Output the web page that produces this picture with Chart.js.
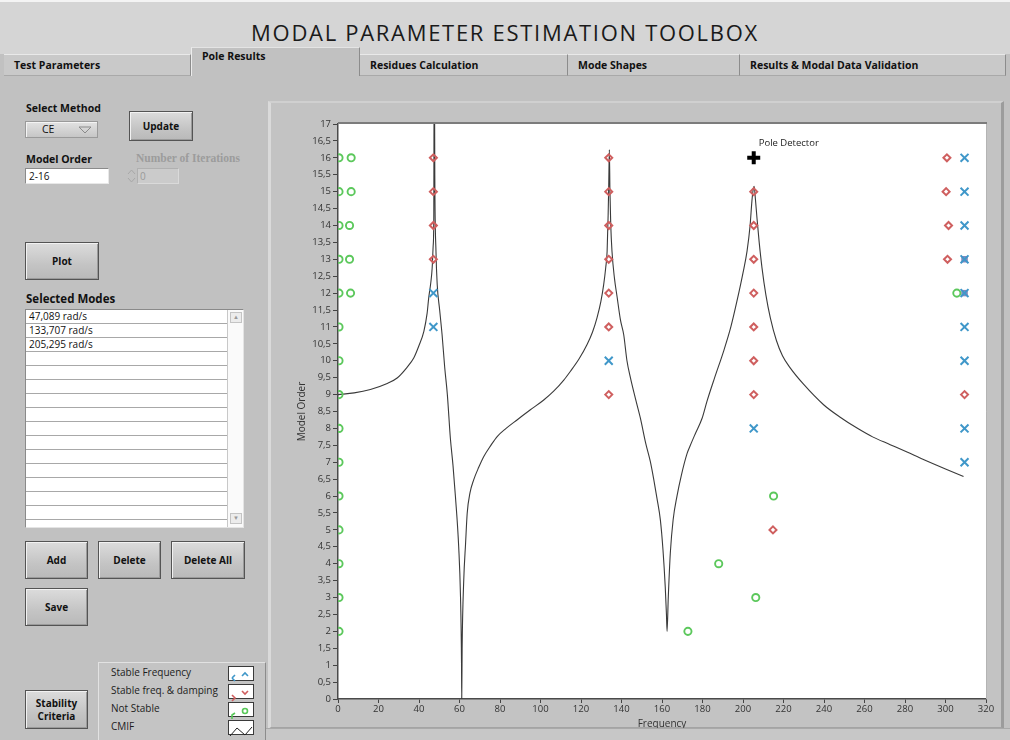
<!DOCTYPE html>
<html>
<head>
<meta charset="utf-8">
<title>Modal Parameter Estimation Toolbox</title>
<script src="https://cdn.jsdelivr.net/npm/chart.js@4.4.1/dist/chart.umd.min.js"></script>
<style>
  html, body { margin: 0; padding: 0; }
  body { width: 1010px; height: 740px; overflow: hidden; position: relative; background: #c1c1c1; font-family: "Open Sans", "Noto Sans", sans-serif; color: #111; }
  .abs { position: absolute; box-sizing: border-box; }
  #titlebar { left: 0; top: 0; width: 1010px; height: 54px; background: #d5d5d5; border-top: 2px solid #f4f4f4; }
  #title { left: 0; top: 17px; width: 1010px; text-align: center; font-size: 22px; letter-spacing: 1.7px; color: #1a1a1a; }
  .tab { top: 54px; height: 22px; background: #c9c9c9; border-top: 1px solid #e9e9e9; border-right: 1px solid #8c8c8c; border-bottom: 1px solid #a9a9a9; font-weight: 700; font-size: 10.5px; padding: 3px 0 0 10px; white-space: nowrap; }
  .tab.active { top: 47px; height: 29px; background: #c1c1c1; border-bottom: none; border-top: 1px solid #e4e4e4; border-left: 1px solid #ececec; padding-top: 1px; }
  .lbl { font-weight: 700; font-size: 10.5px; white-space: nowrap; }
  .btn { background: linear-gradient(#dcdcdc, #c4c4c4 60%, #b9b9b9); border: 1px solid #545454; box-shadow: inset 1px 1px 0 #f2f2f2, inset -1px -1px 0 #9a9a9a; font-weight: 700; font-size: 10px; display: flex; align-items: center; justify-content: center; text-align: center; line-height: 13px; }
  .field { background: #fff; border: 1px solid #8a8a8a; border-right-color: #e8e8e8; border-bottom-color: #e8e8e8; font-size: 10px; padding: 0 0 0 3px; line-height: 14px; }
  #list { left: 25px; top: 309px; width: 219px; height: 219px; background: #fff; border: 1px solid #8a8a8a; border-right-color: #e4e4e4; border-bottom-color: #e4e4e4; overflow: hidden; }
  .row { position: absolute; left: 0; width: 201px; height: 14px; border-bottom: 1px solid #a8a8a8; font-size: 10px; line-height: 13px; padding-left: 3px; box-sizing: border-box; white-space: nowrap; }
  #scroll { right: 0; top: 0; width: 16px; height: 217px; background: #fafafa; border-left: 1px solid #c8c8c8; }
  .arrow { left: 2px; width: 12px; height: 11px; background: #ececec; border: 1px solid #c4c4c4; font-size: 6px; color: #999; text-align: center; line-height: 9px; }
  #legendBox { left: 98px; top: 662px; width: 168px; height: 82px; background: #c4c4c4; border: 1px solid #e2e2e2; border-right-color: #8c8c8c; z-index: 2; }
  .legTxt { left: 12px; font-size: 10px; white-space: nowrap; color: #1c1c1c; }
  .legIcon { left: 129px; width: 26px; height: 15px; background: #fff; border: 1px solid #3a3a3a; }
  #chartPanel { left: 268px; top: 101px; width: 736px; height: 628px; background: #c3c3c3; border-left: 3px solid #dadada; border-top: 2px solid #d0d0d0; border-right: 3px solid #9c9c9c; border-bottom: 2px solid #a4a4a4; }
  #cmifChart { position: absolute; left: 270px; top: 102px; }
  #bottomStrip { left: 266px; top: 728px; width: 744px; height: 12px; background: #c7c7c7; border-top: 1px solid #a9a9a9; }
</style>
</head>
<body>

<div class="abs" id="titlebar"></div>
<div class="abs" id="title">MODAL PARAMETER ESTIMATION TOOLBOX</div>
<div id="tabs"></div>

<!-- method selection and order controls -->
<div class="abs lbl" style="left:26px;top:101px;">Select Method</div>
<div class="abs" style="left:25px;top:121px;width:73px;height:17px;background:linear-gradient(#e2e2e2,#c6c6c6);border:1px solid #9a9a9a;box-shadow:inset 1px 1px 0 #f4f4f4;font-size:10.5px;line-height:15px;padding-left:16px;">CE
  <svg class="abs" style="left:52px;top:4px" width="14" height="8"><path d="M1 1 L13 1 L7 7 Z" fill="none" stroke="#8a8a8a" stroke-width="1"/></svg>
</div>
<div class="abs btn" style="left:129px;top:111px;width:64px;height:30px;">Update</div>

<div class="abs lbl" style="left:26px;top:152px;">Model Order</div>
<div class="abs field" style="left:25px;top:168px;width:84px;height:16px;">2-16</div>
<div class="abs lbl" style="left:136px;top:152px;color:#9c9c9c;font-family:'Liberation Serif',serif;font-size:11.5px;">Number of Iterations</div>
<svg class="abs" style="left:127px;top:168px" width="9" height="16"><path d="M1 6 L4.5 2 L8 6" fill="none" stroke="#a8a8a8"/><path d="M1 10 L4.5 14 L8 10" fill="none" stroke="#a8a8a8"/></svg>
<div class="abs" style="left:137px;top:168px;width:42px;height:16px;background:#cbcbcb;border:1px solid #b0b0b0;border-right-color:#dadada;border-bottom-color:#dadada;font-size:10px;color:#9a9a9a;line-height:14px;padding-left:2px;">0</div>

<div class="abs btn" style="left:25px;top:242px;width:74px;height:38px;">Plot</div>

<div class="abs lbl" style="left:26px;top:291px;font-size:11.5px;">Selected Modes</div>
<div class="abs" id="list">
  <div class="abs" id="scroll">
    <div class="abs arrow" style="top:2px;">&#9650;</div>
    <div class="abs arrow" style="top:203px;">&#9660;</div>
  </div>
</div>

<div class="abs btn" style="left:25px;top:541px;width:63px;height:38px;">Add</div>
<div class="abs btn" style="left:98px;top:541px;width:63px;height:38px;">Delete</div>
<div class="abs btn" style="left:171px;top:541px;width:74px;height:38px;">Delete All</div>
<div class="abs btn" style="left:25px;top:588px;width:63px;height:38px;">Save</div>
<div class="abs btn" style="left:25px;top:690px;width:63px;height:39px;">Stability<br>Criteria</div>

<!-- plot legend -->
<div class="abs" id="legendBox">
  <div class="abs legTxt" style="top:2px;">Stable Frequency</div>
  <div class="abs legTxt" style="top:20px;">Stable freq. &amp; damping</div>
  <div class="abs legTxt" style="top:38px;">Not Stable</div>
  <div class="abs legTxt" style="top:56px;">CMIF</div>
  <div class="abs legIcon" style="top:3px;"><svg width="24" height="13"><path d="M3 7 L6 4 M3 7 L6 10" stroke="#3f97c9" stroke-width="1.6" fill="none"/><path d="M13 5 L16 2 L19 5" stroke="#3f97c9" stroke-width="1.6" fill="none"/></svg></div>
  <div class="abs legIcon" style="top:21px;"><svg width="24" height="13"><path d="M3 6 L6 9 L3 12" stroke="#cf5f5f" stroke-width="1.6" fill="none"/><path d="M13 2 L16 5 L19 2" stroke="#cf5f5f" stroke-width="1.6" fill="none"/></svg></div>
  <div class="abs legIcon" style="top:39px;"><svg width="24" height="13"><path d="M3 12 L3 8 L6 6" stroke="#58c858" stroke-width="1.6" fill="none"/><circle cx="16" cy="4" r="2.5" stroke="#58c858" stroke-width="1.6" fill="none"/></svg></div>
  <div class="abs legIcon" style="top:57px;"><svg width="24" height="13"><path d="M1 11 L8 3 L16 10 L23 2" stroke="#222" stroke-width="1" fill="none"/></svg></div>
</div>

<div class="abs" id="chartPanel"></div>
<canvas id="cmifChart" width="733" height="626"></canvas>
<div class="abs" id="bottomStrip"></div>

<script>
// ---- interface text ----
const tabLabels = ["Test Parameters", "Pole Results", "Residues Calculation", "Mode Shapes", "Results & Modal Data Validation"];
const tabEdges = [4, 191, 360, 568, 740, 1006];
const activeTab = 1;
const selectedModes = ["47,089 rad/s", "133,707 rad/s", "205,295 rad/s"];
const listRowCount = 16;

// ---- stabilisation diagram: poles (frequency, model order) ----
const notStableFreq  = [0.5, 0.5, 0.5, 0.5, 0.5, 0.5, 0.5, 0.5, 0.5, 0.5, 0.5, 0.5, 0.5, 0.5, 0.5, 6.5, 6.5, 5.7, 5.7, 6.2, 172.8, 206.3, 188.0, 215.1, 305.6];
const notStableOrder = [2, 3, 4, 5, 6, 7, 8, 9, 10, 11, 12, 13, 14, 15, 16, 16, 15, 14, 13, 12, 2, 3, 4, 6, 12];

const stableFDFreq  = [47.1, 47.1, 47.1, 47.1, 133.7, 133.7, 133.7, 133.7, 133.7, 133.7, 133.7, 205.3, 205.3, 205.3, 205.3, 205.3, 205.3, 205.3, 214.8, 300.7, 300.3, 301.5, 301.0, 309.4];
const stableFDOrder = [13, 14, 15, 16, 9, 11, 12, 13, 14, 15, 16, 9, 10, 11, 12, 13, 14, 15, 5, 16, 15, 14, 13, 9];

const stableFFreq  = [47.1, 47.1, 133.7, 205.3, 309.4, 309.4, 309.4, 309.4, 309.4, 309.4, 309.4, 309.4, 309.4];
const stableFOrder = [11, 12, 10, 8, 16, 15, 14, 13, 12, 11, 10, 8, 7];

// poles where two markers coincide
const overlapFreq  = [309.4, 309.4];
const overlapOrder = [13, 12];

// pole detector cursor
const cursorFreq  = [205.3];
const cursorOrder = [16];
const cursorLabel = "Pole Detector";

// ---- CMIF curve (scaled to the model-order axis) ----
const cmifFreq = [0, 8, 16, 24, 29.2, 34, 37.4, 40, 42.4, 44, 44.8, 45.8, 46.5, 47.0, 47.3, 47.5, 47.6, 47.8, 48.4, 49.0, 50.2, 51.4, 52.7, 54.0, 55.5, 56.8, 58.0, 59.6, 60.5, 61.0, 61.1, 61.3, 62.1, 63.0, 63.8, 65.2, 67.0, 69.5, 72.0, 75.5, 78.6, 83.0, 88.4, 95.0, 101.6, 106.5, 111.5, 114.8, 119.0, 123.0, 125.7, 127.9, 129.8, 131.2, 132.2, 132.9, 133.4, 133.7, 134.0, 134.3, 134.7, 135.3, 136.5, 137.8, 139.5, 141.1, 142.7, 144.4, 146.8, 149.3, 152.0, 154.2, 155.9, 157.5, 159.2, 160.5, 161.6, 162.2, 162.5, 163.1, 164.1, 165.5, 167.4, 169.5, 172.4, 174.0, 176.5, 179.8, 182.2, 186.0, 190.4, 194.0, 197.0, 200.0, 202.0, 203.5, 204.4, 205.0, 205.5, 206.1, 206.9, 208.0, 209.4, 211.3, 213.5, 216.5, 219.5, 223.3, 230.0, 239.8, 248.0, 256.3, 264.0, 272.7, 281.0, 289.1, 300.0, 308.9];
const cmifLevel = [9.0, 9.05, 9.15, 9.32, 9.49, 9.8, 10.08, 10.45, 10.87, 11.4, 11.86, 12.3, 12.74, 13.4, 14.2, 19.0, 19.0, 15.5, 13.2, 12.25, 11.5, 10.77, 9.8, 9.0, 7.7, 6.9, 5.98, 4.5, 3.02, 1.06, 0.0, 1.5, 3.52, 4.6, 5.49, 6.1, 6.48, 6.85, 7.17, 7.5, 7.76, 8.0, 8.25, 8.55, 8.84, 9.1, 9.43, 9.69, 10.05, 10.48, 10.85, 11.27, 11.75, 12.25, 12.75, 13.24, 14.3, 15.2, 16.24, 15.0, 14.0, 13.24, 12.45, 11.9, 11.2, 10.77, 10.0, 9.5, 8.9, 8.31, 7.55, 7.03, 6.5, 5.94, 5.29, 4.4, 3.32, 2.5, 2.0, 3.0, 4.31, 5.3, 6.0, 6.6, 7.26, 7.5, 7.85, 8.3, 8.8, 9.5, 10.28, 11.0, 11.76, 12.6, 13.24, 14.0, 14.72, 15.05, 15.16, 14.8, 14.22, 13.5, 12.74, 11.95, 11.27, 10.6, 10.15, 9.79, 9.3, 8.7, 8.33, 8.01, 7.75, 7.52, 7.3, 7.08, 6.8, 6.58];

// ---- axis ranges ----
const freqMin = 0, freqMax = 320, freqStep = 20;
const orderMin = 0, orderMax = 17, orderStep = 0.5;

// ---- build tabs and list ----
const tabsEl = document.getElementById('tabs');
tabLabels.forEach((t, i) => {
  const d = document.createElement('div');
  d.className = 'abs tab' + (i === activeTab ? ' active' : '');
  d.style.left = tabEdges[i] + 'px';
  d.style.width = (tabEdges[i + 1] - tabEdges[i]) + 'px';
  d.textContent = t;
  tabsEl.appendChild(d);
});
const listEl = document.getElementById('list');
for (let i = 0; i < listRowCount; i++) {
  const r = document.createElement('div');
  r.className = 'row';
  r.style.top = (i * 14) + 'px';
  r.textContent = selectedModes[i] || '';
  listEl.appendChild(r);
}

const pts = (xs, ys) => xs.map((x, i) => ({ x, y: ys[i] }));

// white plot area, frame and cursor caption
const plotFrame = {
  id: 'plotFrame',
  beforeDraw(chart) {
    const { ctx, chartArea: a } = chart;
    ctx.save();
    ctx.fillStyle = '#ffffff';
    ctx.fillRect(a.left, a.top, a.right - a.left, a.bottom - a.top);
    ctx.restore();
  },
  afterDatasetsDraw(chart) {
    const { ctx, chartArea: a, scales } = chart;
    ctx.save();
    ctx.strokeStyle = '#7c7c7c';
    ctx.lineWidth = 2;
    ctx.beginPath();
    ctx.moveTo(a.left, a.top - 1);
    ctx.lineTo(a.right + 1, a.top - 1);
    ctx.stroke();
    ctx.strokeStyle = '#b4b4b4';
    ctx.lineWidth = 1;
    ctx.beginPath();
    ctx.moveTo(a.right + 0.5, a.top);
    ctx.lineTo(a.right + 0.5, a.bottom);
    ctx.stroke();
    const cx = scales.x.getPixelForValue(cursorFreq[0]);
    const cy = scales.y.getPixelForValue(cursorOrder[0]);
    ctx.fillStyle = '#222';
    ctx.font = '9.5px "Open Sans", sans-serif';
    ctx.textBaseline = 'middle';
    ctx.fillText(cursorLabel, cx + 5, cy - 15);
    ctx.restore();
  }
};

const tickFont = { family: '"Open Sans", sans-serif', size: 9.5 };

new Chart(document.getElementById('cmifChart'), {
  type: 'scatter',
  data: {
    datasets: [
      { label: 'Pole Detector', data: pts(cursorFreq, cursorOrder), pointStyle: 'cross', pointRadius: 6.5, borderColor: '#000', borderWidth: 4, order: 0 },
      { label: 'Overlap', data: pts(overlapFreq, overlapOrder), pointStyle: 'rect', pointRadius: 3.8, backgroundColor: 'rgba(125,120,182,0.85)', borderColor: '#8480b8', borderWidth: 1, order: 2 },
      { label: 'Stable Frequency', data: pts(stableFFreq, stableFOrder), pointStyle: 'crossRot', pointRadius: 5.6, borderColor: '#3f97c9', backgroundColor: '#3f97c9', borderWidth: 2, order: 1 },
      { label: 'Stable freq. & damping', data: pts(stableFDFreq, stableFDOrder), pointStyle: 'rectRot', pointRadius: 3.5, borderColor: '#cf5f5f', backgroundColor: 'rgba(255,255,255,0)', borderWidth: 2, order: 1 },
      { label: 'Not Stable', data: pts(notStableFreq, notStableOrder), pointStyle: 'circle', pointRadius: 3.6, borderColor: '#5cc85c', backgroundColor: 'rgba(255,255,255,0)', borderWidth: 1.9, order: 1, clip: { left: 0, top: 8, right: 8, bottom: 8 } },
      { label: 'CMIF', data: pts(cmifFreq, cmifLevel), showLine: true, pointRadius: 0, borderColor: '#3a3a3a', borderWidth: 1.1, cubicInterpolationMode: 'monotone', order: 10, clip: 0 }
    ]
  },
  options: {
    responsive: false,
    animation: false,
    events: [],
    layout: { padding: { left: 26, top: 22, right: 17, bottom: 0 } },
    plugins: { legend: { display: false }, tooltip: { enabled: false } },
    scales: {
      x: {
        type: 'linear', min: freqMin, max: freqMax,
        afterFit(s) { s.height = 29; },
        border: { display: true, color: '#4a4a4a', width: 1.5 },
        grid: { drawOnChartArea: false, drawTicks: true, tickLength: 4, tickColor: '#444', tickWidth: 1 },
        ticks: { stepSize: freqStep, autoSkip: false, maxRotation: 0, padding: 1, color: '#333', font: tickFont },
        title: { display: true, text: 'Frequency', color: '#333', font: { family: '"Open Sans", sans-serif', size: 10 }, padding: { top: 0, bottom: -2 } }
      },
      y: {
        type: 'linear', min: orderMin, max: orderMax,
        afterFit(s) { s.width = 42; },
        border: { display: true, color: '#4a4a4a', width: 1.5 },
        grid: { drawOnChartArea: false, drawTicks: true, tickLength: 5, tickColor: '#444', tickWidth: 1 },
        ticks: { stepSize: orderStep, autoSkip: false, padding: 2, color: '#333', font: tickFont,
                 callback: v => String(v).replace('.', ',') },
        title: { display: true, text: 'Model Order', color: '#333', font: { family: '"Open Sans", sans-serif', size: 10 }, padding: 0 }
      }
    }
  },
  plugins: [plotFrame]
});
</script>
</body>
</html>
